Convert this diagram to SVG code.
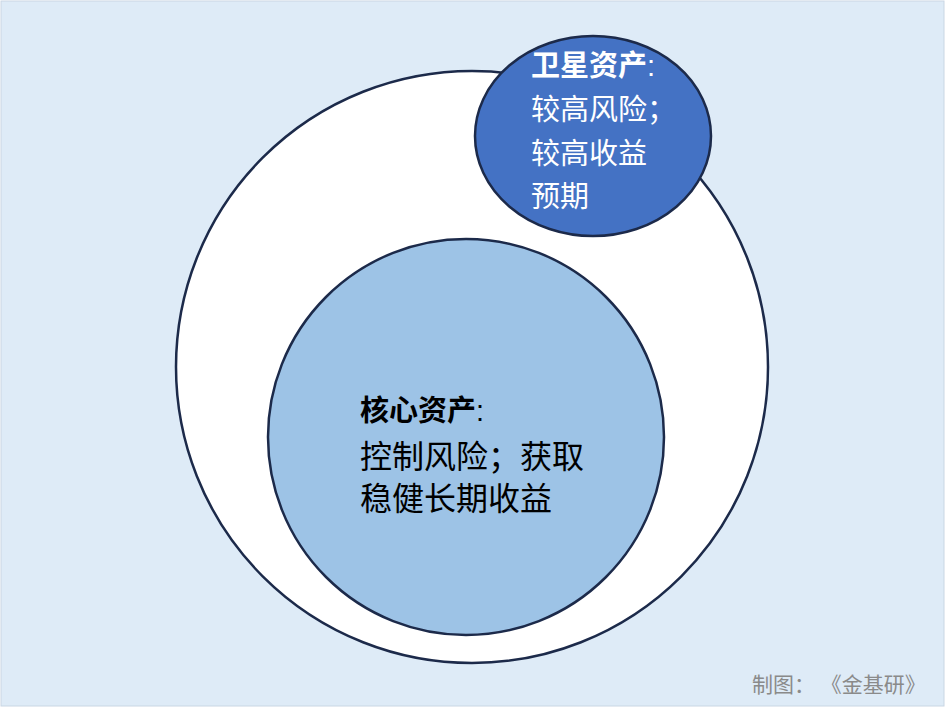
<svg xmlns="http://www.w3.org/2000/svg" width="945" height="707" viewBox="0 0 945 707">
<style>
.c{stroke:#1c2a4a;stroke-width:2.5}
.t{font-family:"Liberation Sans","Noto Sans CJK SC",sans-serif;font-size:29px}
.k{font-size:32px}
</style>
<rect x="1" y="1" width="943" height="705" fill="#deebf7" stroke="#c9d6e3"/>
<g id="outer"><circle class="c" cx="472" cy="367" r="296" fill="#ffffff"/></g>
<g id="core"><circle class="c" cx="466" cy="437" r="198" fill="#9dc3e6"/>
<text class="t k" fill="#000"><tspan x="360" y="421" font-weight="bold" font-size="29">核心资产</tspan><tspan font-size="29">:</tspan><tspan x="360" y="468">控制风险；获取</tspan><tspan x="360" y="510">稳健长期收益</tspan></text></g>
<g id="satellite"><ellipse class="c" cx="593" cy="136" rx="118" ry="100" fill="#4472c4"/>
<text class="t" fill="#fff"><tspan x="531" y="76" font-weight="bold">卫星资产</tspan><tspan>:</tspan><tspan x="531" y="120">较高风险；</tspan><tspan x="531" y="164">较高收益</tspan><tspan x="531" y="207">预期</tspan></text></g>
<g id="connectors"/>
<text x="752" y="692" font-family="Liberation Sans,Noto Sans CJK SC,sans-serif" font-size="21" fill="#8a8a8a">制图： 《金基研》</text>
</svg>
